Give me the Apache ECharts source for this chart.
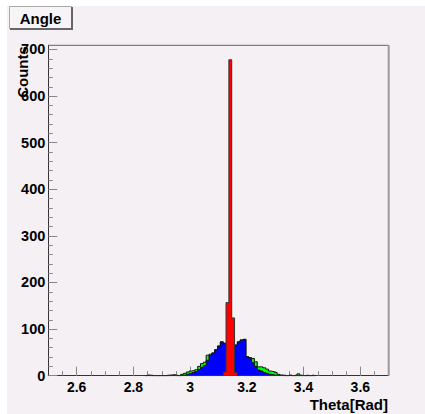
<!DOCTYPE html>
<html><head><meta charset="utf-8">
<script src="https://cdn.jsdelivr.net/npm/echarts@6/dist/echarts.min.js"></script>
<style>html,body{margin:0;padding:0;background:#fff}#c{width:425px;height:414px}</style>
</head><body><div id="c"></div>
<script>
const titleText = 'Angle';
const xTitle = 'Theta[Rad]';
const yTitle = 'Counts';
const xRange = [2.5, 3.7];
const yRange = [0, 709];
const xMajorTicks = [2.6, 2.8, 3.0, 3.2, 3.4, 3.6];
const yMajorTicks = [0, 100, 200, 300, 400, 500, 600, 700];
// histogram binning (bins of 0.01 centred on pi)
const firstBinCenter = 2.84159;
const binWidth = 0.01;
// counts per bin, from firstBinCenter upward
const greenCounts = [
  0,1,1,0,0,0,0,0,1,1,
  2,1,0,3,5,8,10,11,13,20,
  26,29,44,46,49,56,64,73,70,60,
  40,62,66,73,77,78,41,39,37,30,
  19,19,17,14,10,9,7,3,1,1,
  0,1,0,1,4,1,0,1,0,1,0
];
const blueCounts = [
  0,1,0,0,0,0,0,0,0,1,
  1,0,0,1,1,3,5,7,9,13,
  18,22,33,44,48,55,63,72,69,58,
  38,60,65,72,76,78,40,37,28,20,
  12,10,7,5,3,2,1,1,1,0,
  0,1,0,0,0,0,0,0,0,0,0
];
const redCounts = [
  0,0,0,0,0,0,0,0,0,0,
  0,0,0,0,0,0,0,0,0,0,
  0,0,0,0,0,0,0,0,8,157,
  678,124,7,0,1,0,0,0,1,0,
  0,0,0,0,0,0,0,0,0,0,
  0,0,0,0,0,0,0,0,0,0,0
];

const canvasColor = '#f4f0f4';
const fontFam = '"Liberation Sans", Arial, Helvetica, sans-serif';

function toData(counts) {
  return counts.map((c, i) => [+(firstBinCenter + i * binWidth).toFixed(5), c]);
}
const xMinorTicks = [];
for (let v = 2.55; v < 3.7; v += 0.05) xMinorTicks.push(+v.toFixed(2));
const yMinorTicks = [];
for (let v = 20; v < 709; v += 20) if (v % 100 !== 0) yMinorTicks.push(v);

const G = {left: 48.3, top: 45.3, right: 388.7, bottom: 375.7};

function hist(name, counts, fill, stroke, z) {
  return {
    name, type: 'line', step: 'middle', data: toData(counts),
    symbol: 'none', showSymbol: false, animation: false, z,
    lineStyle: {color: stroke, width: 1},
    areaStyle: {color: fill, opacity: 1}
  };
}

const chart = echarts.init(document.getElementById('c'), null, {renderer: 'svg'});
chart.setOption({
  backgroundColor: '#ffffff',
  animation: false,
  grid: {left: G.left, top: G.top, width: G.right - G.left, height: G.bottom - G.top, containLabel: false},
  xAxis: [{
    type: 'value', min: xRange[0], max: xRange[1], position: 'bottom',
    axisLine: {show: true, lineStyle: {color: '#333', width: 1}},
    axisTick: {show: true, inside: true, length: 9, customValues: xMajorTicks, lineStyle: {color: '#888'}},
    axisLabel: {show: true, customValues: xMajorTicks, margin: 4, color: '#000',
      fontFamily: fontFam, fontWeight: 'bold', fontSize: 14},
    splitLine: {show: false}
  }, {
    type: 'value', min: xRange[0], max: xRange[1], position: 'bottom', offset: 0,
    axisLine: {show: false},
    axisTick: {show: true, inside: true, length: 4.5, customValues: xMinorTicks, lineStyle: {color: '#888'}},
    axisLabel: {show: false}, splitLine: {show: false}
  }],
  yAxis: [{
    type: 'value', min: yRange[0], max: yRange[1], position: 'left',
    axisLine: {show: true, lineStyle: {color: '#333', width: 1}},
    axisTick: {show: true, inside: true, length: 9, customValues: yMajorTicks, lineStyle: {color: '#888'}},
    axisLabel: {show: true, customValues: yMajorTicks, margin: 3, color: '#000',
      fontFamily: fontFam, fontWeight: 'bold', fontSize: 14.5},
    splitLine: {show: false}
  }, {
    type: 'value', min: yRange[0], max: yRange[1], position: 'left', offset: 0,
    axisLine: {show: false},
    axisTick: {show: true, inside: true, length: 4.5, customValues: yMinorTicks, lineStyle: {color: '#888'}},
    axisLabel: {show: false}, splitLine: {show: false}
  }],
  series: [
    hist('all', greenCounts, '#00ff00', '#111', 2),
    hist('mid', blueCounts, '#0000ff', '#111', 3),
    hist('peak', redCounts, '#ff0000', '#333', 4)
  ],
  graphic: [
    {type: 'rect', z: -100, silent: true, shape: {x: 7, y: 6, width: 418, height: 408}, style: {fill: canvasColor}},
    {type: 'line', z: 100, shape: {x1: G.left, y1: G.top, x2: G.right, y2: G.top}, style: {stroke: '#666', lineWidth: 1}},
    {type: 'line', z: 100, shape: {x1: G.right, y1: G.top, x2: G.right, y2: G.bottom}, style: {stroke: '#999', lineWidth: 2}},
    {type: 'rect', z: 100, shape: {x: 9.5, y: 6.5, width: 62, height: 22}, style: {fill: '#f7f4f7', stroke: '#aaa', lineWidth: 1}},
    {type: 'line', z: 101, shape: {x1: 72, y1: 7, x2: 72, y2: 30}, style: {stroke: '#666', lineWidth: 2}},
    {type: 'line', z: 101, shape: {x1: 10, y1: 29, x2: 73, y2: 29}, style: {stroke: '#666', lineWidth: 2}},
    {type: 'text', z: 102, x: 40.5, y: 18, style: {text: titleText, fill: '#000', font: 'bold 15px ' + fontFam, textAlign: 'center', textVerticalAlign: 'middle'}},
    {type: 'text', z: 102, x: 388, y: 404.5, style: {text: xTitle, fill: '#000', font: 'bold 15px ' + fontFam, textAlign: 'right', textVerticalAlign: 'middle'}},
    {type: 'text', z: 102, x: 22, y: 72, rotation: Math.PI / 2, style: {text: yTitle, fill: '#000', font: 'bold 15px ' + fontFam, textAlign: 'center', textVerticalAlign: 'middle'}}
  ]
});
</script></body></html>
